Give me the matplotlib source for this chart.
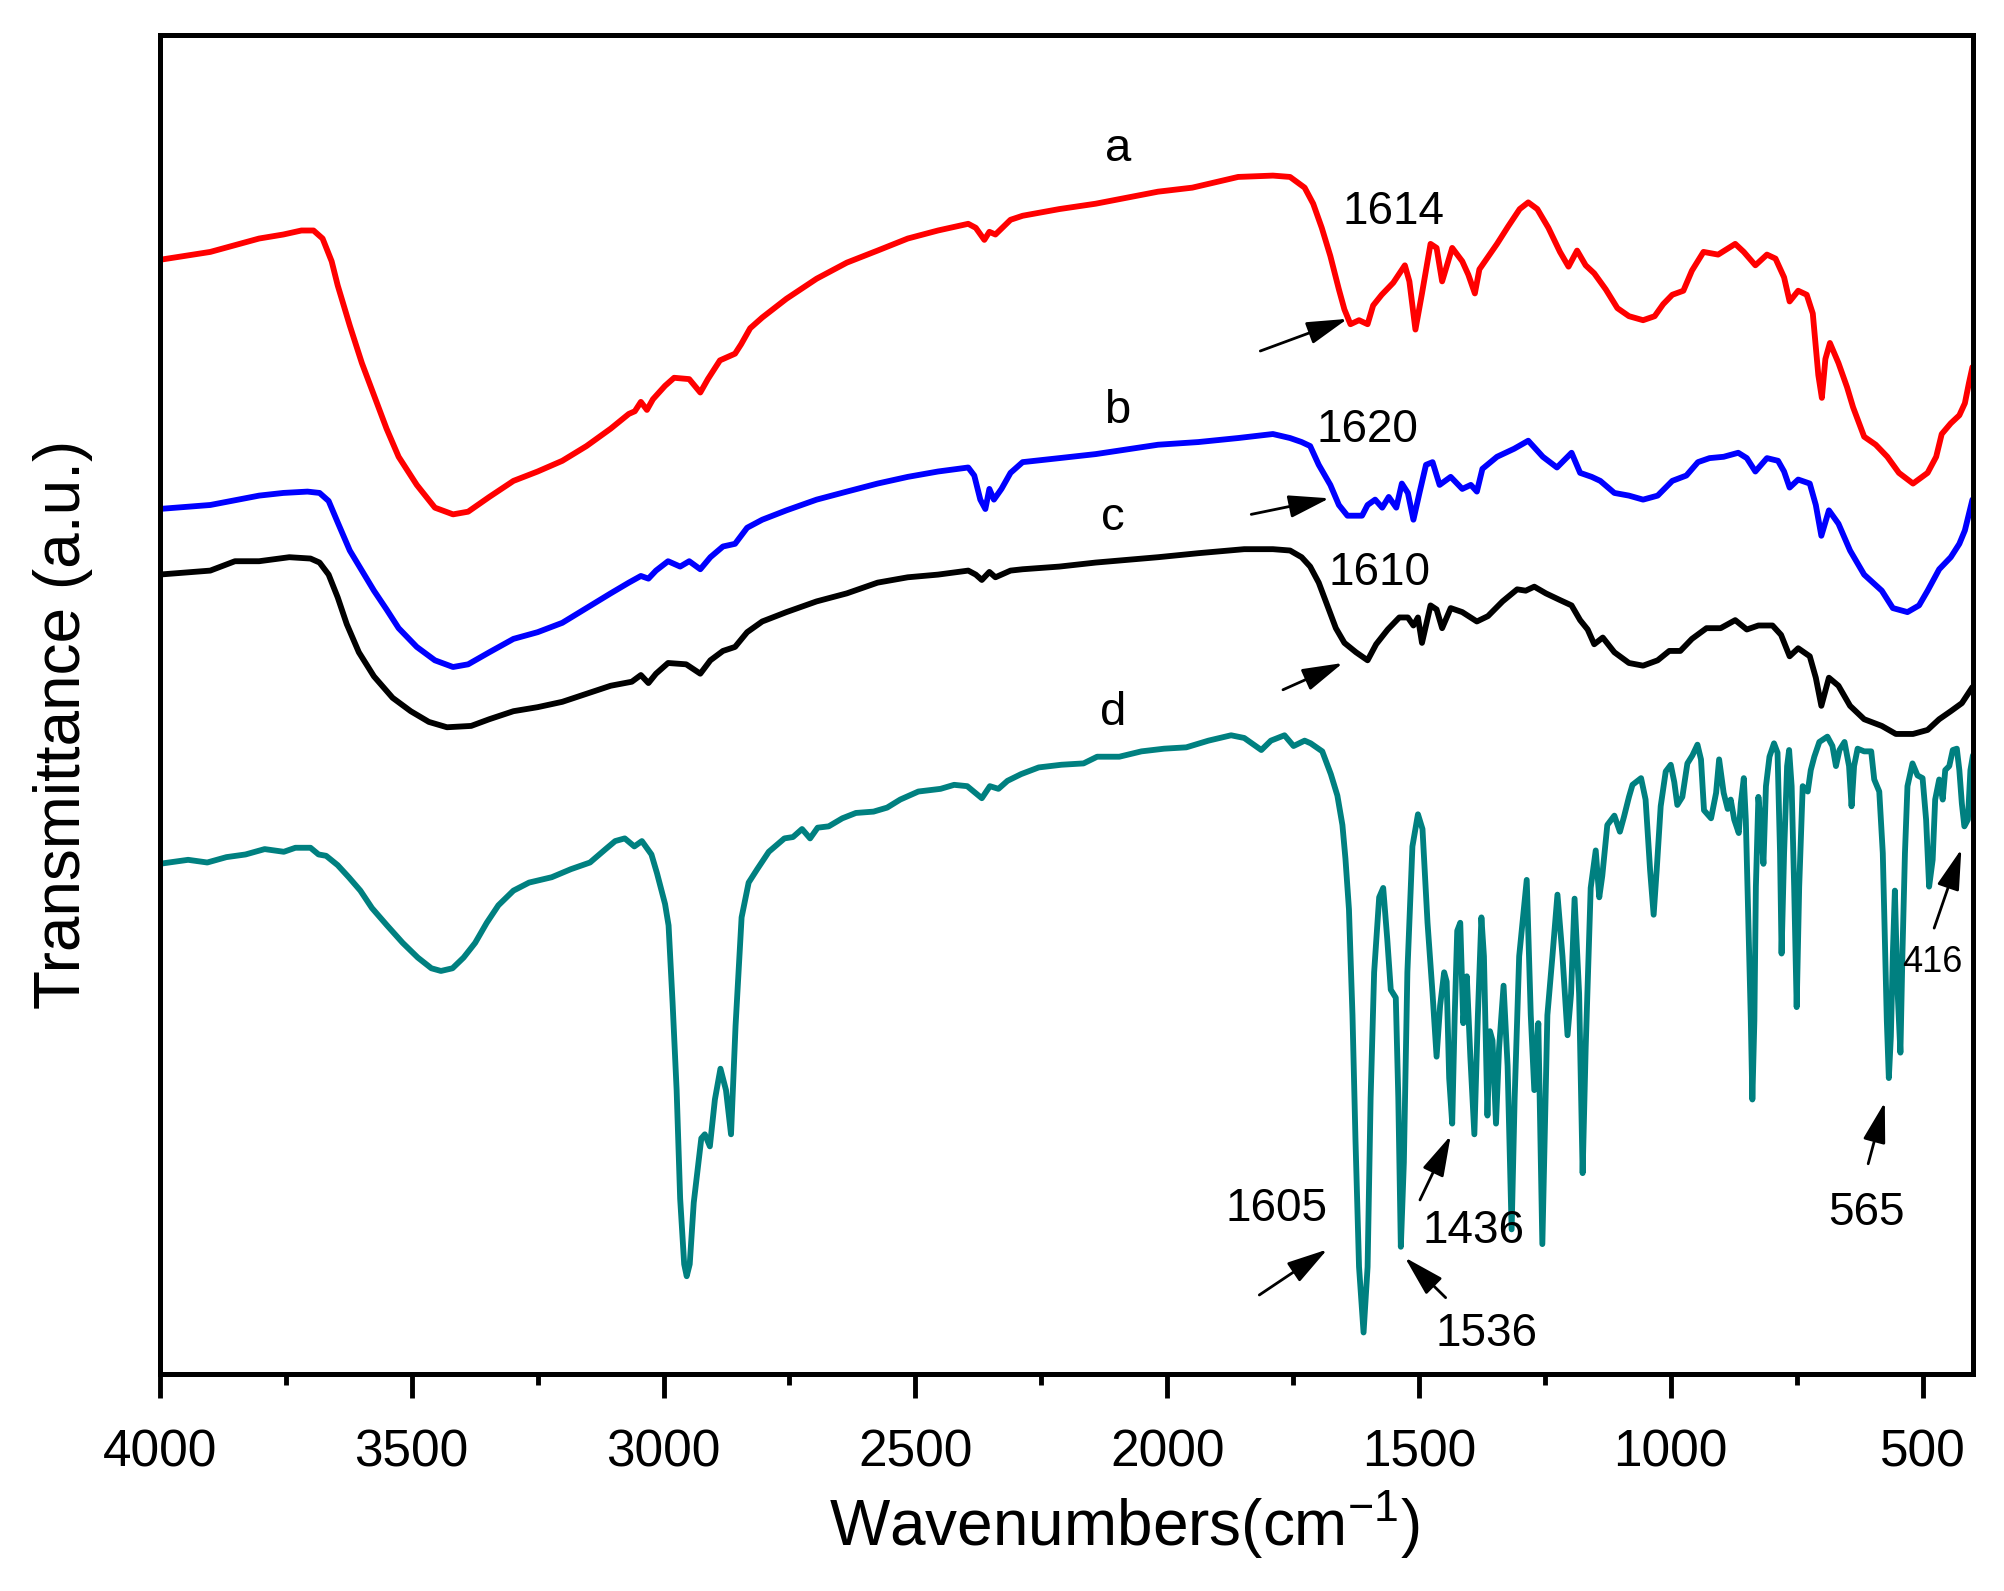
import matplotlib
matplotlib.use("Agg")
import matplotlib.pyplot as plt
from matplotlib.ticker import MultipleLocator

plt.rcParams['font.family'] = ['Liberation Sans', 'DejaVu Sans']
plt.rcParams['mathtext.fontset'] = 'custom'
plt.rcParams['mathtext.rm'] = 'Liberation Sans'
plt.rcParams['mathtext.default'] = 'regular'

# ---- data (wavenumber, offset transmittance in a.u.) ----
a_wn = [4002, 3900, 3803, 3755, 3719, 3695, 3677, 3659, 3647, 3623, 3599, 3575, 3550, 3526, 3490, 3454,
        3418, 3388, 3346, 3298, 3250, 3201, 3153, 3105, 3069, 3057, 3045, 3033, 3021, 2997, 2979, 2949,
        2927, 2912, 2888, 2858, 2846, 2828, 2804, 2756, 2696, 2636, 2575, 2515, 2455, 2395, 2380, 2363,
        2353, 2341, 2311, 2287, 2214, 2142, 2018, 1950, 1859, 1790, 1756, 1727, 1710, 1693, 1676, 1659,
        1648, 1636, 1619, 1602, 1591, 1574, 1551, 1528, 1519, 1507, 1494, 1477, 1465, 1454, 1434, 1414,
        1402, 1389, 1380, 1345, 1323, 1300, 1283, 1265, 1243, 1220, 1203, 1186, 1169, 1152, 1129, 1106,
        1083, 1055, 1032, 1015, 997, 975, 958, 935, 906, 872, 855, 832, 809, 792, 775, 764, 747, 730,
        718, 707, 700, 693, 684, 667, 650, 638, 616, 593, 570, 547, 519, 490, 473, 462, 444, 427, 416,
        408, 401]
a_val = [83.2, 83.8, 84.8, 85.1, 85.4, 85.4, 84.8, 83.1, 81.3, 78.3, 75.5, 73.1, 70.6, 68.5, 66.4, 64.7,
         64.2, 64.4, 65.5, 66.7, 67.4, 68.2, 69.3, 70.6, 71.7, 71.9, 72.6, 72.0, 72.8, 73.8, 74.4, 74.3,
         73.3, 74.3, 75.7, 76.2, 76.9, 78.1, 78.9, 80.3, 81.8, 83.0, 83.9, 84.8, 85.4, 85.9, 85.6, 84.7,
         85.3, 85.1, 86.2, 86.5, 87.0, 87.4, 88.3, 88.6, 89.4, 89.5, 89.4, 88.6, 87.4, 85.6, 83.5, 81.0,
         79.5, 78.4, 78.7, 78.4, 79.8, 80.6, 81.5, 82.8, 81.6, 78.0, 80.7, 84.4, 84.1, 81.6, 84.1, 83.1,
         82.1, 80.7, 82.5, 84.4, 85.7, 87.0, 87.5, 87.0, 85.6, 83.8, 82.7, 83.9, 82.8, 82.2, 81.0, 79.6,
         79.0, 78.7, 79.0, 79.9, 80.6, 80.9, 82.4, 83.8, 83.6, 84.4, 83.8, 82.8, 83.6, 83.3, 81.9, 80.1,
         80.9, 80.6, 79.2, 74.6, 72.9, 75.8, 77.0, 75.5, 73.7, 72.2, 70.0, 69.4, 68.5, 67.3, 66.5, 67.3,
         68.5, 70.2, 71.0, 71.6, 72.5, 74.0, 75.2]

b_wn = [4002, 3900, 3803, 3755, 3707, 3683, 3665, 3647, 3623, 3599, 3575, 3550, 3526, 3490, 3454, 3418,
        3388, 3346, 3298, 3250, 3201, 3153, 3105, 3069, 3045, 3030, 3015, 2991, 2967, 2949, 2927, 2907,
        2882, 2858, 2834, 2804, 2756, 2696, 2636, 2575, 2515, 2455, 2395, 2383, 2371, 2361, 2353, 2344,
        2329, 2311, 2287, 2214, 2142, 2018, 1938, 1859, 1790, 1756, 1733, 1716, 1699, 1676, 1659, 1642,
        1613, 1602, 1587, 1573, 1560, 1545, 1534, 1522, 1511, 1499, 1486, 1473, 1459, 1437, 1414, 1397,
        1385, 1374, 1345, 1311, 1283, 1254, 1226, 1197, 1180, 1157, 1140, 1112, 1083, 1055, 1026, 997,
        969, 946, 923, 895, 866, 849, 832, 809, 787, 775, 764, 747, 724, 712, 701, 686, 667, 644, 616,
        581, 559, 530, 507, 490, 467, 444, 427, 416, 401]
b_val = [64.6, 64.9, 65.6, 65.8, 65.9, 65.8, 65.2, 63.6, 61.5, 60.0, 58.5, 57.1, 55.7, 54.3, 53.3, 52.8,
         53.0, 53.9, 54.9, 55.4, 56.1, 57.2, 58.3, 59.1, 59.6, 59.4, 60.0, 60.7, 60.3, 60.7, 60.1, 61.0,
         61.8, 62.0, 63.2, 63.8, 64.5, 65.3, 65.9, 66.5, 67.0, 67.4, 67.7, 67.1, 65.3, 64.6, 66.1, 65.3,
         66.1, 67.3, 68.1, 68.4, 68.7, 69.4, 69.6, 69.9, 70.2, 69.9, 69.6, 69.3, 67.9, 66.4, 64.9, 64.1,
         64.1, 64.9, 65.3, 64.7, 65.5, 64.7, 66.5, 65.8, 63.8, 65.8, 67.9, 68.1, 66.4, 67.0, 66.1, 66.4,
         65.9, 67.6, 68.5, 69.1, 69.7, 68.5, 67.7, 68.8, 67.3, 67.0, 66.7, 65.8, 65.6, 65.3, 65.6, 66.7,
         67.1, 68.1, 68.4, 68.5, 68.8, 68.4, 67.4, 68.4, 68.2, 67.4, 66.2, 66.8, 66.5, 64.9, 62.6, 64.5,
         63.5, 61.5, 59.7, 58.5, 57.2, 56.9, 57.4, 58.5, 60.1, 61.0, 62.0, 63.0, 65.3]

c_wn = [4002, 3900, 3851, 3803, 3743, 3701, 3683, 3665, 3647, 3629, 3605, 3575, 3538, 3502, 3466, 3430,
        3382, 3346, 3298, 3250, 3201, 3153, 3105, 3063, 3045, 3030, 3015, 2991, 2955, 2927, 2907, 2882,
        2858, 2834, 2804, 2756, 2696, 2636, 2575, 2515, 2455, 2395, 2380, 2368, 2353, 2341, 2311, 2287,
        2214, 2142, 2018, 1938, 1847, 1790, 1756, 1733, 1716, 1699, 1682, 1665, 1648, 1625, 1602, 1585,
        1562, 1539, 1522, 1511, 1502, 1494, 1477, 1465, 1454, 1437, 1414, 1385, 1363, 1334, 1305, 1288,
        1271, 1248, 1220, 1197, 1180, 1165, 1152, 1135, 1112, 1083, 1055, 1026, 1003, 981, 958, 929,
        901, 872, 849, 826, 798, 781, 764, 747, 724, 712, 701, 686, 667, 644, 616, 581, 553, 519, 490,
        467, 444, 422, 401]
c_val = [59.7, 60.0, 60.7, 60.7, 61.0, 60.9, 60.6, 59.7, 58.0, 56.0, 53.9, 52.1, 50.5, 49.5, 48.7, 48.3,
         48.4, 48.9, 49.5, 49.8, 50.2, 50.8, 51.4, 51.7, 52.2, 51.6, 52.3, 53.1, 53.0, 52.3, 53.3, 54.0,
         54.3, 55.4, 56.2, 56.9, 57.7, 58.3, 59.1, 59.5, 59.7, 60.0, 59.7, 59.3, 59.9, 59.5, 60.0, 60.1,
         60.3, 60.6, 61.0, 61.3, 61.6, 61.6, 61.5, 61.0, 60.3, 59.1, 57.4, 55.7, 54.6, 53.9, 53.3, 54.5,
         55.6, 56.5, 56.5, 55.9, 56.5, 54.6, 57.4, 57.1, 55.7, 57.2, 56.9, 56.2, 56.6, 57.7, 58.6, 58.5,
         58.8, 58.3, 57.8, 57.4, 56.3, 55.6, 54.5, 55.0, 53.9, 53.1, 52.9, 53.3, 54.0, 54.0, 54.9, 55.7,
         55.7, 56.3, 55.6, 55.9, 55.9, 55.2, 53.6, 54.2, 53.6, 52.0, 49.9, 52.0, 51.4, 49.9, 48.9, 48.4,
         47.8, 47.8, 48.1, 48.9, 49.5, 50.1, 51.3]

d_wn = [4001, 3944, 3906, 3868, 3830, 3792, 3754, 3731, 3701, 3685, 3670, 3647, 3625, 3602, 3579, 3549,
        3518, 3488, 3461, 3442, 3419, 3397, 3374, 3351, 3328, 3298, 3267, 3222, 3184, 3146, 3115, 3096,
        3077, 3058, 3043, 3024, 3013, 2997, 2990, 2982, 2974, 2967, 2959, 2954, 2948, 2940, 2925, 2918,
        2908, 2898, 2887, 2876, 2866, 2857, 2845, 2831, 2814, 2791, 2760, 2743, 2725, 2709, 2694, 2672,
        2645, 2618, 2583, 2556, 2530, 2494, 2450, 2423, 2397, 2368, 2352, 2335, 2317, 2290, 2255, 2210,
        2166, 2139, 2095, 2051, 2006, 1962, 1918, 1873, 1847, 1813, 1794, 1767, 1749, 1727,
        1715, 1692, 1675, 1662, 1652, 1646, 1639, 1632, 1626, 1619, 1610, 1602, 1596, 1589, 1579, 1571,
        1563, 1556, 1546, 1541, 1536, 1530, 1523, 1513, 1502, 1493, 1483, 1473, 1465, 1458, 1450, 1445,
        1440, 1434, 1429, 1424, 1418, 1412, 1405, 1398, 1390, 1383, 1376, 1371, 1364, 1359, 1354, 1347,
        1341, 1332, 1324, 1316, 1310, 1301, 1286, 1278, 1271, 1263, 1255, 1245, 1235, 1225, 1215, 1205,
        1198, 1191, 1182, 1175, 1169, 1159, 1149, 1142, 1136, 1126, 1112, 1101, 1093, 1083, 1076, 1059,
        1050, 1041, 1034, 1028, 1020, 1010, 1000, 993, 987, 977, 967, 957, 947, 940, 934, 920, 910, 904,
        895, 887, 881, 874, 865, 861, 855, 851, 846, 841, 838, 834, 831, 826, 821, 816, 811, 804, 795,
        788, 783, 780, 775, 769, 765, 760, 755, 750, 745, 738, 728, 722, 715, 705, 689, 679, 672, 665,
        655, 646, 641, 636, 629, 616, 602, 596, 586, 579, 575, 571, 567, 563, 559, 555, 550, 544, 540,
        535, 530, 520, 510, 500, 493, 487, 480, 475, 467, 460, 455, 447, 440, 432, 427, 422, 417, 410,
        405, 400]
d_val = [38.1, 38.4, 38.2, 38.6, 38.8, 39.2, 39.0, 39.3, 39.3, 38.8, 38.7, 38.0, 37.1, 36.1, 34.8, 33.5,
         32.2, 31.1, 30.3, 30.1, 30.3, 31.1, 32.2, 33.7, 35.0, 36.1, 36.7, 37.1, 37.7, 38.2, 39.2, 39.8,
         40.0, 39.4, 39.8, 38.8, 37.4, 35.1, 33.5, 27.7, 21.2, 13.1, 8.2, 7.3, 8.2, 12.8, 17.6, 17.9,
         17.0, 20.5, 22.8, 21.2, 17.9, 26.0, 34.1, 36.7, 37.7, 39.0, 40.0, 40.1, 40.7, 40.0, 40.8, 40.9,
         41.5, 41.9, 42.0, 42.3, 42.9, 43.5, 43.7, 44.0, 43.9, 43.0, 43.9, 43.7, 44.3, 44.8, 45.3, 45.5,
         45.6, 46.1, 46.1, 46.5, 46.7, 46.8, 47.3, 47.7, 47.5, 46.6, 47.3, 47.7, 46.9, 47.3,
         47.1, 46.5, 44.8, 43.2, 41.0, 38.5, 34.7, 26.8, 17.4, 8.0, 3.1, 8.0, 20.6, 30.0, 35.6, 36.3,
         32.5, 28.7, 28.1, 20.6, 9.5, 15.8, 30.0, 39.4, 41.8, 40.7, 33.7, 28.4, 23.7, 27.5, 30.0, 29.3,
         22.1, 18.7, 26.8, 33.1, 33.7, 26.2, 29.7, 23.7, 17.9, 26.8, 34.1, 31.2, 19.3, 25.6, 24.9, 18.7,
         24.3, 29.0, 23.0, 10.8, 20.6, 31.2, 36.9, 26.8, 21.2, 26.2, 9.7, 26.8, 31.2, 35.8, 31.2, 25.3,
         28.4, 35.5, 28.4, 15.0, 24.3, 36.3, 39.1, 35.6, 37.2, 41.0, 41.7, 40.5, 41.6, 43.1, 44.0, 44.5,
         42.9, 37.6, 34.3, 37.6, 42.4, 45.0, 45.5, 44.2, 42.5, 43.1, 45.6, 46.2, 47.0, 45.9, 42.1, 41.5,
         43.4, 45.9, 43.4, 42.2, 42.9, 41.4, 40.4, 42.6, 44.5, 41.4, 33.9, 26.4, 20.5, 26.4, 36.4, 43.1,
         40.9, 38.1, 43.9, 46.1, 47.1, 46.4, 38.9, 31.4, 38.9, 45.4, 46.6, 43.9, 36.4, 27.4, 36.4, 43.9,
         43.5, 45.1, 46.1, 47.2, 47.6, 46.9, 45.4, 46.6, 47.2, 45.4, 42.4, 45.4, 46.7, 46.5, 46.5, 44.4,
         43.5, 38.9, 32.7, 26.4, 22.1, 25.2, 31.4, 36.1, 28.9, 24.0, 31.4, 38.9, 43.9, 45.6, 44.7, 44.5,
         41.4, 36.4, 38.4, 42.9, 44.4, 42.9, 45.1, 45.4, 46.6, 46.7, 45.1, 42.6, 40.9, 41.4, 45.1, 46.2]

series_colors = ['#FF0000', '#0000FF', '#000000', '#008080']
curve_labels = ['a', 'b', 'c', 'd']
label_wn = [2097, 2100, 2108, 2108]
label_val = [91.5, 71.9, 63.9, 49.4]

peak_texts = ['1614', '1620', '1610', '1605', '1436', '1536', '565', '416']
peak_text_wn = [1551, 1602, 1579, 1782, 1391, 1366, 611, 481]
peak_text_val = [86.8, 70.5, 59.8, 12.3, 10.7, 3.0, 12.0, 30.7]
arrow_tail_wn = [1815, 1833, 1770, 1817, 1498, 1447, 608, 477]
arrow_tail_val = [76.4, 64.2, 51.1, 5.9, 13.0, 5.7, 15.7, 33.3]
arrow_head_wn = [1642, 1678, 1651, 1682, 1437, 1528, 575, 423]
arrow_head_val = [78.8, 65.4, 53.1, 9.3, 17.8, 8.7, 20.3, 39.2]
peak_sizes = [33, 33, 33, 33, 33, 33, 33, 26]

fig = plt.figure(figsize=(20.04, 15.91), dpi=100)
ax = fig.add_axes([0.0798, 0.1364, 0.9047, 0.8416])

for wn, val, col in zip([a_wn, b_wn, c_wn, d_wn], [a_val, b_val, c_val, d_val], series_colors):
    ax.plot(wn, val, color=col, lw=4.2, solid_joinstyle='round', solid_capstyle='round')

for lab, x, y in zip(curve_labels, label_wn, label_val):
    ax.text(x, y, lab, fontsize=34, ha='center', va='center')

for t, x, y, s in zip(peak_texts, peak_text_wn, peak_text_val, peak_sizes):
    ax.text(x, y, t, fontsize=s, ha='center', va='center')

for xt, yt, xh, yh in zip(arrow_tail_wn, arrow_tail_val, arrow_head_wn, arrow_head_val):
    ax.annotate('', xy=(xh, yh), xytext=(xt, yt),
                arrowprops=dict(arrowstyle='-|>,head_length=1.0,head_width=0.28',
                                color='k', lw=2.0, mutation_scale=25,
                                shrinkA=0, shrinkB=0))

ax.set_xlim(4000, 400)
ax.set_ylim(0, 100)
ax.xaxis.set_major_locator(MultipleLocator(500))
ax.xaxis.set_minor_locator(MultipleLocator(250))
ax.tick_params(axis='x', which='major', direction='out', length=17, width=3.5,
               labelsize=37, pad=22)
ax.tick_params(axis='x', which='minor', direction='out', length=8, width=3.5)
ax.set_yticks([])
for sp in ax.spines.values():
    sp.set_linewidth(3.6)

ax.set_xlabel('Wavenumbers(cm$^{-1}$)', fontsize=46, labelpad=8, x=0.532)
ax.set_ylabel('Transmittance (a.u.)', fontsize=46, labelpad=48, y=0.485)

fig.savefig('out.png', dpi=100)
